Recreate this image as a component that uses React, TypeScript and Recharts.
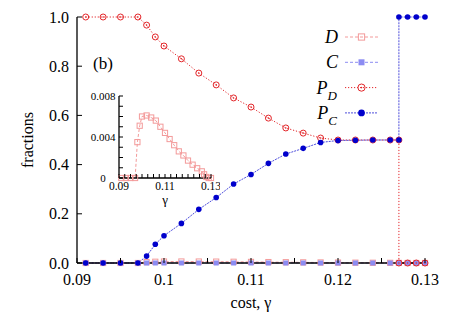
import React from "react";
import { Legend, Line, LineChart, XAxis, YAxis } from "recharts";

// grid of cost values used by D and C
const gamma = [
  0.091, 0.093, 0.095, 0.097, 0.098, 0.099, 0.1, 0.102, 0.104, 0.106, 0.108, 0.11, 0.112, 0.114, 0.116, 0.118,
  0.12, 0.122, 0.124, 0.126, 0.127, 0.128, 0.129, 0.13,
];
const dFrac = [
  0, 0, 0, 0, 0.0035, 0.0051, 0.006, 0.0061, 0.0059, 0.0056, 0.005, 0.0044, 0.0038, 0.0032, 0.0026, 0.0022, 0.0017,
  0.0013, 0.00095, 0.00065, 0.00036, 0.0001, 0, 0,
];
const cFrac = [0, 0, 0, 0, 0, 0, 0, 0, 0, 0, 0, 0, 0, 0, 0, 0, 0, 0, 0, 0, 0, 0, 0, 0];

// P_D / P_C jump at 0.127, so that value appears twice
const gammaP = [
  0.091, 0.093, 0.095, 0.097, 0.098, 0.099, 0.1, 0.102, 0.104, 0.106, 0.108, 0.11, 0.112, 0.114, 0.116, 0.118,
  0.12, 0.122, 0.124, 0.126, 0.127, 0.127, 0.128, 0.129, 0.13,
];
const pdFrac = [
  1, 1, 1, 1, 0.967, 0.919, 0.882, 0.83, 0.772, 0.724, 0.671, 0.634, 0.589, 0.549, 0.528, 0.508, 0.5, 0.5, 0.5, 0.5,
  0.5, 0, 0, 0, 0,
];
const pcFrac = [
  0, 0, 0, 0, 0.028, 0.076, 0.111, 0.161, 0.218, 0.266, 0.321, 0.36, 0.405, 0.443, 0.466, 0.49, 0.498, 0.499, 0.5,
  0.5, 0.5, 1, 1, 1, 1,
];

const xTicks = [0.09, 0.095, 0.1, 0.105, 0.11, 0.115, 0.12, 0.125, 0.13];
const xLabels = [0.09, 0.1, 0.11, 0.12, 0.13];
const yTicks = [0, 0.2, 0.4, 0.6, 0.8, 1];

const insetXTicks = [
  0.09, 0.0925, 0.095, 0.0975, 0.1, 0.1025, 0.105, 0.1075, 0.11, 0.1125, 0.115, 0.1175, 0.12, 0.1225, 0.125, 0.1275,
  0.13,
];
const insetXLabels = [0.09, 0.11, 0.13];
const insetYTicks = [0, 0.001, 0.002, 0.003, 0.004, 0.005, 0.006, 0.007, 0.008];
const insetYLabels = [0, 0.004, 0.008];

const legendOrder = ["D", "C", "P_D", "P_C"];

const dData = gamma.map((x, i) => ({ x, y: dFrac[i] }));
const cData = gamma.map((x, i) => ({ x, y: cFrac[i] }));
const pdData = gammaP.map((x, i) => ({ x, y: pdFrac[i] }));
const pcData = gammaP.map((x, i) => ({ x, y: pcFrac[i] }));

const FONT = "Liberation Serif, Times New Roman, DejaVu Serif, serif";
const txt = { fontFamily: FONT } as const;

type Marker = "openSquare" | "square" | "dotCircle" | "disc";
const styles: Record<string, { color: string; dash: string; width: number; marker: Marker }> = {
  D: { color: "#f39a9a", dash: "3 2", width: 1, marker: "openSquare" },
  C: { color: "#8c8cf2", dash: "3 2", width: 1, marker: "square" },
  P_D: { color: "#e3262a", dash: "1.2 1.8", width: 1, marker: "dotCircle" },
  P_C: { color: "#0000cc", dash: "2 1", width: 0.7, marker: "disc" },
};

function drawMarker(kind: Marker, color: string, cx: number, cy: number, key: string, s = 1) {
  if (kind === "openSquare")
    return <rect key={key} x={cx - 2.6 * s} y={cy - 2.6 * s} width={5.2 * s} height={5.2 * s} fill="none" stroke={color} strokeWidth={1} />;
  if (kind === "square")
    return <rect key={key} x={cx - 2.5 * s} y={cy - 2.5 * s} width={5 * s} height={5 * s} fill={color} />;
  if (kind === "dotCircle")
    return (
      <g key={key}>
        <circle cx={cx} cy={cy} r={3 * s} fill="none" stroke={color} strokeWidth={1} />
        <circle cx={cx} cy={cy} r={0.8} fill={color} />
      </g>
    );
  return <circle key={key} cx={cx} cy={cy} r={2.8 * s} fill={color} />;
}

function makeTick(
  side: "bottom" | "top" | "left" | "right",
  len: number,
  labels: number[] | null,
  fmt: (v: number) => string,
  fontSize: number,
  gap: number,
  anchor: "end" | "middle" = "end"
) {
  return (props: any) => {
    const { x, y, payload } = props;
    const v = payload.value as number;
    const show = labels !== null && labels.some((l) => Math.abs(l - v) < 1e-9);
    let line;
    if (side === "bottom") line = <line x1={x} y1={y} x2={x} y2={y - len} stroke="#000" />;
    else if (side === "top") line = <line x1={x} y1={y} x2={x} y2={y + len} stroke="#000" />;
    else if (side === "left") line = <line x1={x} y1={y} x2={x + len} y2={y} stroke="#000" />;
    else line = <line x1={x} y1={y} x2={x - len} y2={y} stroke="#000" />;
    return (
      <g>
        {line}
        {show && side === "bottom" && (
          <text x={x} y={y + gap} textAnchor="middle" fontSize={fontSize} style={txt} fill="#000">
            {fmt(v)}
          </text>
        )}
        {show && side === "left" && (
          <text x={x - gap} y={y} dy="0.35em" textAnchor={anchor} fontSize={fontSize} style={txt} fill="#000">
            {fmt(v)}
          </text>
        )}
      </g>
    );
  };
}

function renderLegend(props: any) {
  const items = (props.payload || [])
    .filter((p: any) => styles[p.value])
    .sort((a: any, b: any) => legendOrder.indexOf(a.value) - legendOrder.indexOf(b.value));
  return (
    <svg width={463} height={315} style={{ position: "absolute", left: 0, top: 0 }}>
      {items.map((p: any, i: number) => {
        const st = styles[p.value];
        const cy = 37 + i * 25.3;
        const [base, sub] = String(p.value).split("_");
        return (
          <g key={p.value}>
            <text x={sub ? 337 : 338} y={cy + 6} textAnchor="end" fontSize={18} fontStyle="italic" style={txt} fill="#000">
              <tspan>{base}</tspan>
              {sub && (
                <tspan dy={6} fontSize={13}>
                  {sub}
                </tspan>
              )}
            </text>
            <line x1={345} y1={cy} x2={378} y2={cy} stroke={st.color} strokeDasharray={st.dash} strokeWidth={st.width} />
            {drawMarker(st.marker, st.color, 361.5, cy, `lg-${i}`, 1.2)}
          </g>
        );
      })}
    </svg>
  );
}

const fmtX = (v: number) => String(Number(v.toFixed(3)));
const fmtY = (v: number) => v.toFixed(1);

export default function App() {
  const series = [
    { name: "D", data: dData },
    { name: "C", data: cData },
    { name: "P_D", data: pdData },
    { name: "P_C", data: pcData },
  ];
  return (
    <div style={{ position: "relative", width: 463, height: 315, background: "#fff", fontFamily: FONT }}>
      <style>{`body{margin:0}`}</style>
      <LineChart width={463} height={315} margin={{ top: 17, right: 38, bottom: 0, left: 0 }}>
        <XAxis
          type="number"
          dataKey="x"
          domain={[0.09, 0.13]}
          ticks={xTicks}
          interval={0}
          height={52}
          tickSize={0}
          tickMargin={0}
          axisLine={{ stroke: "#000", strokeWidth: 1.3 }}
          tick={makeTick("bottom", 5, xLabels, fmtX, 16, 22)}
          label={{
            content: (p: any) => (
              <text x={p.viewBox.x + p.viewBox.width / 2} y={p.viewBox.y + 45} textAnchor="middle" fontSize={16} style={txt}>
                cost, γ
              </text>
            ),
          }}
        />
        <XAxis
          xAxisId="top"
          orientation="top"
          type="number"
          dataKey="x"
          domain={[0.09, 0.13]}
          ticks={xTicks}
          interval={0}
          height={0}
          tickSize={0}
          tickMargin={0}
          axisLine={{ stroke: "#000", strokeWidth: 1.3 }}
          tick={makeTick("top", 5, null, fmtX, 16, 0)}
        />
        <YAxis
          type="number"
          domain={[0, 1]}
          ticks={yTicks}
          interval={0}
          width={77}
          tickSize={0}
          tickMargin={0}
          axisLine={{ stroke: "#000", strokeWidth: 1.3 }}
          tick={makeTick("left", 5, yTicks, fmtY, 16, 8)}
          label={{
            content: (p: any) => {
              const cx = p.viewBox.x + 27;
              const cy = p.viewBox.y + p.viewBox.height / 2;
              return (
                <text x={cx} y={cy} transform={`rotate(-90 ${cx} ${cy})`} textAnchor="middle" dy="0.35em" fontSize={16} style={txt}>
                  fractions
                </text>
              );
            },
          }}
        />
        <YAxis
          yAxisId="right"
          orientation="right"
          type="number"
          domain={[0, 1]}
          ticks={yTicks}
          interval={0}
          width={0}
          tickSize={0}
          tickMargin={0}
          axisLine={{ stroke: "#000", strokeWidth: 1.3 }}
          tick={makeTick("right", 5, null, fmtY, 16, 0)}
        />
        <Legend layout="vertical" align="center" verticalAlign="middle" wrapperStyle={{ left: 0, top: 0, width: 463, height: 315, pointerEvents: "none" }} content={renderLegend} />
        {series.map((s) => {
          const st = styles[s.name];
          return (
            <Line
              key={s.name}
              name={s.name}
              data={s.data}
              dataKey="y"
              type="linear"
              stroke={st.color}
              strokeWidth={st.width}
              strokeDasharray={st.dash}
              isAnimationActive={false}
              dot={(p: any) => drawMarker(st.marker, st.color, p.cx, p.cy, `${s.name}-${p.index}`)}
              activeDot={false}
            />
          );
        })}
      </LineChart>

      <div style={{ position: "absolute", left: 80, top: 86 }}>
        <LineChart width={140} height={125} margin={{ top: 10, right: 9, bottom: 0, left: 0 }}>
          <XAxis
            type="number"
            dataKey="x"
            domain={[0.09, 0.13]}
            ticks={insetXTicks}
            interval={0}
            height={33}
            tickSize={0}
            tickMargin={0}
            axisLine={{ stroke: "#000", strokeWidth: 1.3 }}
            tick={makeTick("bottom", 4, insetXLabels, fmtX, 11.5, 12)}
            label={{
              content: (p: any) => (
                <text x={p.viewBox.x + p.viewBox.width / 2} y={p.viewBox.y + 26} textAnchor="middle" fontSize={13} style={txt}>
                  γ
                </text>
              ),
            }}
          />
          <XAxis
            xAxisId="top"
            orientation="top"
            type="number"
            dataKey="x"
            domain={[0.09, 0.13]}
            ticks={insetXTicks}
            interval={0}
            height={0}
            tickSize={0}
            tickMargin={0}
            axisLine={{ stroke: "#000", strokeWidth: 1.3 }}
            tick={makeTick("top", 4, null, fmtX, 12, 0)}
          />
          <YAxis
            type="number"
            domain={[0, 0.008]}
            ticks={insetYTicks}
            interval={0}
            width={39}
            tickSize={0}
            tickMargin={0}
            axisLine={{ stroke: "#000", strokeWidth: 1.3 }}
            tick={makeTick("left", 4, insetYLabels, (v) => String(v), 11, 16, "middle")}
          />
          <YAxis
            yAxisId="right"
            orientation="right"
            type="number"
            domain={[0, 0.008]}
            ticks={insetYTicks}
            interval={0}
            width={0}
            tickSize={0}
            tickMargin={0}
            axisLine={{ stroke: "#000", strokeWidth: 1.3 }}
            tick={makeTick("right", 4, null, (v) => String(v), 11, 0)}
          />
          <Line
            name="D"
            data={dData}
            dataKey="y"
            type="linear"
            stroke={styles.D.color}
            strokeWidth={1}
            strokeDasharray={styles.D.dash}
            isAnimationActive={false}
            dot={(p: any) => drawMarker("openSquare", styles.D.color, p.cx, p.cy, `in-${p.index}`)}
            activeDot={false}
          />
        </LineChart>
      </div>

      <svg width={463} height={315} style={{ position: "absolute", left: 0, top: 0, pointerEvents: "none" }}>
        <text x={93} y={69} fontSize={17} style={txt}>
          (b)
        </text>
      </svg>
    </div>
  );
}
